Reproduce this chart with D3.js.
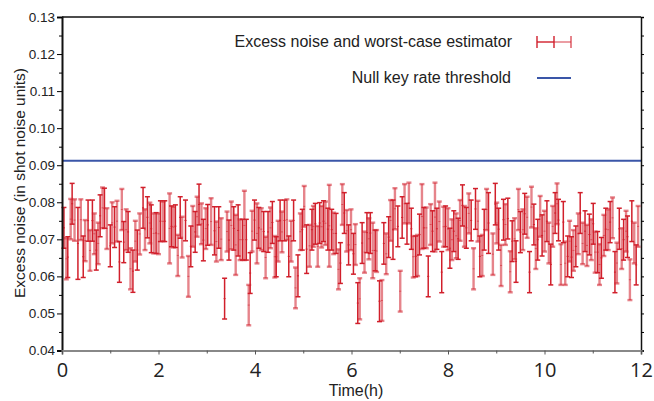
<!DOCTYPE html>
<html>
<head>
<meta charset="utf-8">
<script src="https://cdn.jsdelivr.net/npm/d3@7"></script>
<style>
  body { margin: 0; background: #fff; }
  svg { display: block; }
</style>
</head>
<body>
<svg id="chart"></svg>
<script>
// sampling times (h)
var times = [0.04,0.09,0.12,0.18,0.21,0.26,0.33,0.39,0.44,0.48,0.54,0.58,0.63,0.67,0.71,0.75,0.79,0.84,0.88,0.93,1.00,1.04,1.09,1.14,1.19,1.24,1.28,1.33,1.37,1.42,1.47,1.52,1.56,1.61,1.68,1.72,1.77,1.82,1.85,1.90,1.95,2.00,2.04,2.09,2.13,2.23,2.27,2.31,2.35,2.40,2.45,2.49,2.56,2.62,2.67,2.71,2.76,2.80,2.84,2.89,2.93,2.98,3.02,
  3.09,3.16,3.20,3.25,3.30,3.37,3.42,3.46,3.51,3.56,3.60,3.65,3.69,3.74,3.78,3.82,3.87,3.90,3.94,3.99,4.04,4.08,4.13,4.18,4.22,4.27,4.32,4.36,4.41,4.44,4.48,4.52,4.56,4.61,4.66,4.70,4.75,4.80,4.84,4.89,4.94,4.98,5.02,5.07,5.13,5.18,5.21,5.25,5.30,5.34,5.38,5.42,5.46,5.51,5.54,5.59,5.63,5.68,5.73,5.77,5.81,5.85,5.90,
  5.94,5.99,6.04,6.08,6.13,6.17,6.22,6.27,6.32,6.36,6.39,6.44,6.49,6.52,6.58,6.63,6.67,6.72,6.77,6.81,6.86,6.90,6.96,7.01,7.05,7.10,7.15,7.19,7.24,7.28,7.33,7.37,7.41,7.46,7.50,7.55,7.59,7.64,7.68,7.73,7.77,7.82,7.87,7.91,7.95,8.00,8.04,8.08,8.12,8.17,8.21,8.25,8.30,8.34,8.38,8.43,8.48,8.53,8.57,8.62,8.66,8.71,8.75,8.80,8.84,
  8.93,8.98,9.01,9.05,9.10,9.15,9.19,9.24,9.29,9.33,9.38,9.41,9.46,9.50,9.55,9.59,9.64,9.69,9.73,9.78,9.82,9.86,9.91,9.95,10.00,10.05,10.09,10.13,10.17,10.22,10.26,10.29,10.34,10.39,10.43,10.48,10.52,10.56,10.60,10.65,10.70,10.74,10.79,10.84,10.88,10.93,10.97,11.01,11.05,11.10,11.14,11.18,11.23,11.27,11.32,11.36,11.41,11.46,11.50,11.55,11.60,11.64,11.69,11.72,11.77,11.81,11.86,11.90,11.94];

// bottom of each error bar
var lows = [0.0676,0.0592,0.0597,0.0700,0.0741,0.0696,0.0592,0.0698,0.0597,0.0641,0.0695,0.0615,0.0695,0.0660,0.0617,0.0633,0.0707,0.0730,0.0730,0.0674,0.0626,0.0689,0.0678,0.0694,0.0584,0.0725,0.0637,0.0671,0.0665,0.0565,0.0557,0.0640,0.0617,0.0659,0.0730,0.0671,0.0704,0.0689,0.0664,0.0662,0.0662,0.0660,0.0694,0.0695,0.0694,0.0635,0.0680,0.0678,0.0678,0.0601,0.0703,0.0651,0.0696,0.0545,0.0626,0.0680,0.0665,0.0707,0.0739,0.0687,0.0642,0.0674,0.0684,
  0.0685,0.0658,0.0640,0.0676,0.0644,0.0485,0.0667,0.0644,0.0673,0.0671,0.0604,0.0655,0.0644,0.0644,0.0644,0.0644,0.0468,0.0554,0.0667,0.0698,0.0635,0.0676,0.0671,0.0667,0.0595,0.0665,0.0676,0.0689,0.0597,0.0599,0.0640,0.0696,0.0665,0.0696,0.0698,0.0599,0.0640,0.0696,0.0514,0.0545,0.0671,0.0671,0.0734,0.0608,0.0626,0.0671,0.0680,0.0687,0.0626,0.0689,0.0678,0.0694,0.0685,0.0671,0.0626,0.0671,0.0660,0.0662,0.0565,0.0581,0.0739,0.0716,0.0667,
  0.0631,0.0671,0.0606,0.0631,0.0473,0.0484,0.0635,0.0610,0.0664,0.0646,0.0662,0.0595,0.0615,0.0612,0.0478,0.0480,0.0633,0.0606,0.0651,0.0696,0.0646,0.0727,0.0680,0.0505,0.0703,0.0743,0.0687,0.0743,0.0673,0.0597,0.0599,0.0601,0.0658,0.0674,0.0676,0.0676,0.0545,0.0685,0.0667,0.0667,0.0673,0.0694,0.0556,0.0680,0.0680,0.0671,0.0622,0.0644,0.0667,0.0649,0.0646,0.0696,0.0736,0.0680,0.0676,0.0716,0.0696,0.0565,0.0727,0.0694,0.0599,0.0601,0.0671,0.0725,0.0662,
  0.0604,0.0739,0.0689,0.0671,0.0574,0.0698,0.0685,0.0701,0.0557,0.0640,0.0646,0.0584,0.0725,0.0664,0.0671,0.0714,0.0704,0.0556,0.0732,0.0685,0.0620,0.0644,0.0707,0.0655,0.0667,0.0694,0.0635,0.0577,0.0680,0.0716,0.0741,0.0696,0.0577,0.0691,0.0577,0.0599,0.0640,0.0597,0.0615,0.0626,0.0660,0.0716,0.0633,0.0667,0.0628,0.0658,0.0644,0.0687,0.0610,0.0610,0.0577,0.0595,0.0655,0.0671,0.0671,0.0691,0.0703,0.0556,0.0581,0.0673,0.0620,0.0644,0.0667,0.0651,0.0536,0.0694,0.0635,0.0577,0.0680];

// top of each error bar
var highs = [0.0786,0.0703,0.0707,0.0809,0.0851,0.0808,0.0786,0.0808,0.0709,0.0752,0.0806,0.0725,0.0806,0.0770,0.0725,0.0745,0.0820,0.0840,0.0838,0.0784,0.0739,0.0800,0.0788,0.0804,0.0694,0.0836,0.0748,0.0781,0.0775,0.0676,0.0671,0.0750,0.0725,0.0770,0.0840,0.0781,0.0815,0.0799,0.0793,0.0770,0.0772,0.0770,0.0804,0.0802,0.0804,0.0824,0.0790,0.0788,0.0793,0.0712,0.0815,0.0761,0.0806,0.0655,0.0736,0.0790,0.0775,0.0815,0.0849,0.0797,0.0754,0.0784,0.0794,
  0.0811,0.0788,0.0748,0.0788,0.0757,0.0595,0.0775,0.0752,0.0802,0.0788,0.0766,0.0793,0.0754,0.0754,0.0831,0.0754,0.0577,0.0664,0.0777,0.0806,0.0797,0.0786,0.0784,0.0775,0.0707,0.0775,0.0786,0.0802,0.0709,0.0707,0.0750,0.0806,0.0775,0.0806,0.0808,0.0709,0.0750,0.0806,0.0624,0.0658,0.0770,0.0781,0.0844,0.0739,0.0739,0.0781,0.0790,0.0797,0.0736,0.0799,0.0790,0.0804,0.0802,0.0784,0.0847,0.0781,0.0772,0.0770,0.0673,0.0691,0.0849,0.0826,0.0779,
  0.0739,0.0781,0.0716,0.0741,0.0583,0.0595,0.0745,0.0721,0.0772,0.0757,0.0772,0.0745,0.0725,0.0725,0.0588,0.0590,0.0745,0.0716,0.0761,0.0806,0.0806,0.0838,0.0790,0.0615,0.0815,0.0849,0.0797,0.0853,0.0784,0.0709,0.0709,0.0712,0.0768,0.0849,0.0786,0.0786,0.0655,0.0795,0.0777,0.0853,0.0784,0.0802,0.0667,0.0788,0.0790,0.0784,0.0730,0.0754,0.0777,0.0770,0.0757,0.0806,0.0847,0.0790,0.0786,0.0824,0.0806,0.0676,0.0837,0.0804,0.0709,0.0712,0.0781,0.0836,0.0826,
  0.0716,0.0851,0.0799,0.0784,0.0685,0.0808,0.0795,0.0811,0.0668,0.0750,0.0757,0.0696,0.0836,0.0775,0.0781,0.0824,0.0815,0.0667,0.0842,0.0795,0.0730,0.0754,0.0817,0.0766,0.0777,0.0804,0.0745,0.0687,0.0790,0.0826,0.0851,0.0808,0.0687,0.0802,0.0694,0.0709,0.0750,0.0707,0.0725,0.0736,0.0770,0.0826,0.0745,0.0777,0.0739,0.0768,0.0754,0.0797,0.0721,0.0721,0.0687,0.0705,0.0766,0.0784,0.0781,0.0802,0.0813,0.0667,0.0691,0.0784,0.0730,0.0754,0.0777,0.0763,0.0646,0.0804,0.0745,0.0685,0.0790];

var threshold = 0.0912;
var yTicks = [0.04,0.05,0.06,0.07,0.08,0.09,0.10,0.11,0.12,0.13];
var yMinor = [0.045,0.055,0.065,0.075,0.085,0.095,0.105,0.115,0.125];
var xTicks = [0,2,4,6,8,10,12];
var xMinor = [1,3,5,7,9,11];
var legendLabels = ["Excess noise and worst-case estimator", "Null key rate threshold"];

var width = 654, height = 401;
var margin = {top: 17, right: 13, bottom: 50.5, left: 62};

var red = "#d11f2b", blue = "#3a56a8";

var x = d3.scaleLinear().domain([0, 12]).range([margin.left, width - margin.right]);
var y = d3.scaleLinear().domain([0.04, 0.13]).range([height - margin.bottom, margin.top]);

var svg = d3.select("#chart").attr("width", width).attr("height", height);

// frame: top
svg.append("line")
    .attr("x1", x(0)).attr("x2", x(12)).attr("y1", y(0.13)).attr("y2", y(0.13))
    .attr("stroke", "#111").attr("stroke-width", 1.5);

// threshold line
svg.append("line")
    .attr("x1", x(0)).attr("x2", x(12)).attr("y1", y(threshold)).attr("y2", y(threshold))
    .attr("stroke", blue).attr("stroke-width", 2);

// error bars, alternating solid / light
var data = times.map(function(t, i) { return {t: t, lo: lows[i], hi: highs[i], i: i}; });

var bars = svg.append("g").attr("class", "bars")
  .selectAll("g").data(data).enter().append("g")
    .attr("stroke", red)
    .attr("stroke-opacity", function(d) { return d.i % 2 ? 0.55 : 1; })
    .attr("stroke-width", function(d) { return d.i % 2 ? 2.4 : 1.5; });

bars.append("line")
    .attr("x1", d => x(d.t)).attr("x2", d => x(d.t))
    .attr("y1", d => y(d.lo)).attr("y2", d => y(d.hi));
bars.append("line")
    .attr("x1", d => x(d.t) - 2.5).attr("x2", d => x(d.t) + 2.5)
    .attr("y1", d => y(d.hi)).attr("y2", d => y(d.hi));
bars.append("line")
    .attr("x1", d => x(d.t) - 2.5).attr("x2", d => x(d.t) + 2.5)
    .attr("y1", d => y(d.lo)).attr("y2", d => y(d.lo));
bars.append("line")
    .attr("x1", d => x(d.t) - 1).attr("x2", d => x(d.t) + 1)
    .attr("y1", d => y((d.lo + d.hi) / 2)).attr("y2", d => y((d.lo + d.hi) / 2))
    .attr("stroke-width", 1);

// y axis (left)
var yAxis = svg.append("g")
    .attr("transform", "translate(" + x(0) + ",0)")
    .call(d3.axisLeft(y).tickValues(yTicks).tickSize(5).tickPadding(2).tickFormat(d3.format(".2f")));
yAxis.select(".domain").attr("stroke", "#111").attr("stroke-width", 2);
yAxis.selectAll("text").attr("font-family", "Liberation Sans, Arial, sans-serif")
    .attr("font-size", 13.5).attr("fill", "#222");
svg.append("g")
    .attr("transform", "translate(" + x(0) + ",0)")
    .call(d3.axisLeft(y).tickValues(yMinor).tickSize(3).tickFormat(""))
    .select(".domain").remove();

// right axis
var rAxis = svg.append("g")
    .attr("transform", "translate(" + x(12) + ",0)")
    .call(d3.axisRight(y).tickValues(yTicks.concat(yMinor)).tickSize(3).tickFormat(""));
rAxis.select(".domain").attr("stroke", "#111").attr("stroke-width", 1.5);

// x axis
var xAxis = svg.append("g")
    .attr("transform", "translate(0," + y(0.04) + ")")
    .call(d3.axisBottom(x).tickValues(xTicks).tickSize(4).tickPadding(8).tickFormat(d3.format("d")));
xAxis.select(".domain").attr("stroke", "#888").attr("stroke-width", 2);
xAxis.selectAll(".tick line").attr("stroke", "#555");
xAxis.selectAll("text").attr("font-family", "Open Sans, sans-serif")
    .attr("font-size", 20).attr("fill", "#222");
svg.append("g")
    .attr("transform", "translate(0," + y(0.04) + ")")
    .call(d3.axisBottom(x).tickValues(xMinor).tickSize(3).tickFormat(""))
    .call(g => g.select(".domain").remove())
    .selectAll("line").attr("stroke", "#555");

// axis titles
svg.append("text")
    .attr("transform", "translate(25," + 183 + ") rotate(-90)")
    .attr("text-anchor", "middle")
    .attr("font-family", "Liberation Sans, Arial, sans-serif")
    .attr("font-size", 15.5).attr("fill", "#222")
    .text("Excess noise (in shot noise units)");

svg.append("text")
    .attr("x", 356).attr("y", 396)
    .attr("text-anchor", "middle")
    .attr("font-family", "Liberation Sans, Arial, sans-serif")
    .attr("font-size", 16).attr("fill", "#222")
    .text("Time(h)");

// legend
var legend = svg.append("g").attr("font-family", "Liberation Sans, Arial, sans-serif")
    .attr("font-size", 16).attr("fill", "#222");
legend.append("text").attr("x", 512).attr("y", 47).attr("text-anchor", "end").text(legendLabels[0]);
legend.append("text").attr("x", 511).attr("y", 83).attr("text-anchor", "end").text(legendLabels[1]);

var ly = 42;
legend.append("line").attr("x1", 537).attr("x2", 554).attr("y1", ly).attr("y2", ly)
    .attr("stroke", red).attr("stroke-width", 1.4);
legend.append("line").attr("x1", 554).attr("x2", 571).attr("y1", ly).attr("y2", ly)
    .attr("stroke", red).attr("stroke-opacity", 0.55).attr("stroke-width", 1.6);
[537, 554, 571].forEach(function(cx, k) {
  legend.append("line").attr("x1", cx).attr("x2", cx).attr("y1", ly - 6).attr("y2", ly + 6)
      .attr("stroke", red).attr("stroke-opacity", k == 2 ? 0.55 : 1).attr("stroke-width", k == 2 ? 2 : 1.4);
});
legend.append("line").attr("x1", 537).attr("x2", 571).attr("y1", 78).attr("y2", 78)
    .attr("stroke", blue).attr("stroke-width", 2);
</script>
</body>
</html>
